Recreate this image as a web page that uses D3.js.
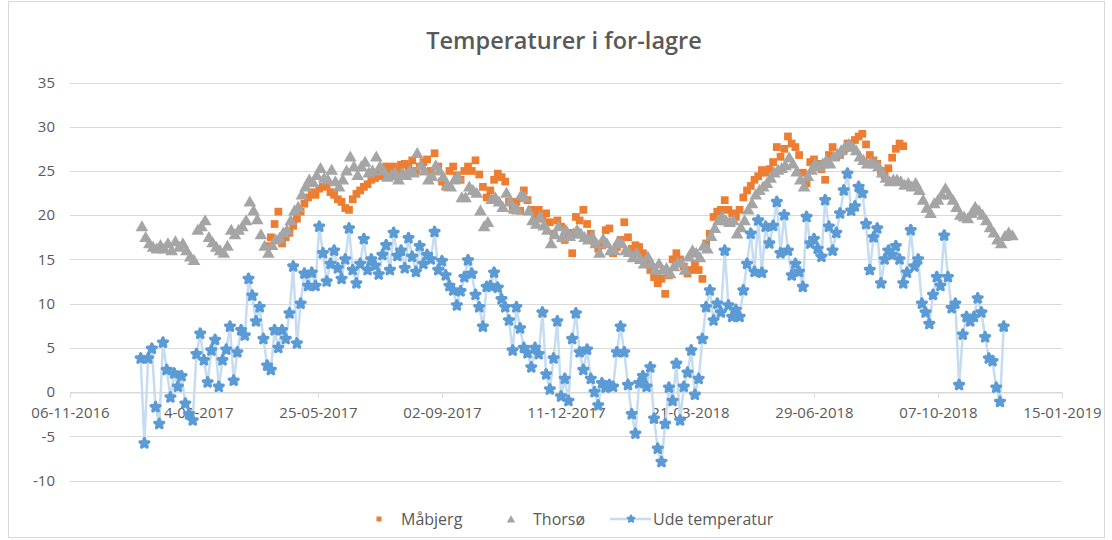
<!DOCTYPE html>
<html>
<head>
<meta charset="utf-8">
<script src="https://cdn.jsdelivr.net/npm/d3@7"></script>
<style>
  html, body { margin: 0; padding: 0; background: #fff; }
  svg { display: block; }
  text { font-family: "Open Sans", "Liberation Sans", sans-serif; fill: #595959; }
</style>
</head>
<body>
<svg id="chart" width="1112" height="540"></svg>
<script>
// ---------------- DATA ----------------
const chartTitle = "Temperaturer i for-lagre";
const seriesNames = ["Måbjerg", "Thorsø", "Ude temperatur"];
const xTickLabels = ["06-11-2016", "14-02-2017", "25-05-2017", "02-09-2017", "11-12-2017",
                     "21-03-2018", "29-06-2018", "07-10-2018", "15-01-2019"];
const yTickValues = [-10, -5, 0, 5, 10, 15, 20, 25, 30, 35];
const stepDays = 3; // readings sampled every 3 days

const maabjergStart = "14-04-2017";
const maabjergValues = [
  16.5, 17.5, 19.0, 20.4, 16.8, 17.5, 18.0, 18.8, 19.6, 20.4, 21.3, 22.0, 22.6, 22.3, 23.0, 23.2, 23.4,
  22.6, 22.3, 21.8, 21.5, 20.8, 20.6, 21.8, 22.4, 22.8, 23.2, 23.5, 24.0, 24.2, 24.6, 24.4, 25.5, 25.0,
  25.5, 25.0, 25.7, 25.8, 25.5, 26.2, 25.0, 25.5, 26.0, 26.3, 25.0, 27.0, 25.5, 23.8, 23.2, 25.0, 25.5,
  24.5, 24.0, 25.0, 25.5, 25.0, 26.2, 24.6, 23.2, 22.0, 22.8, 24.0, 24.7, 24.3, 23.8, 21.5, 20.6, 21.5, 20.5,
  22.8, 21.7, 20.6, 20.0, 20.6, 19.6, 20.2, 19.2, 17.9, 19.4, 18.7, 17.2, 18.0, 15.7, 19.8, 19.4, 20.6,
  19.0, 17.9, 16.8, 16.2, 16.6, 18.3, 18.5, 15.7, 16.4, 17.2, 19.2, 17.5, 16.2, 16.6, 16.4, 15.7, 14.9,
  13.8, 13.0, 12.3, 12.8, 11.1, 13.2, 15.0, 15.7, 15.0, 14.2, 13.4, 13.8, 14.5, 13.8, 12.8, 16.8, 17.9,
  19.8, 20.4, 20.6, 21.7, 20.6, 20.2, 19.8, 20.6, 22.0, 22.8, 23.3, 24.0, 24.4, 25.1, 24.8, 25.2, 26.0,
  27.7, 26.6, 27.5, 28.9, 28.1, 27.7, 26.8, 24.8, 23.6, 26.0, 26.3, 25.8, 25.2, 24.0, 26.8, 27.7, 26.6,
  26.8, 27.3, 28.1, 27.8, 28.5, 28.9, 29.2, 28.0, 26.8, 26.2, 25.8, 25.0, 24.5, 25.3, 26.5, 27.5, 28.1, 27.8
];

const thorsoStart = "03-01-2017";
const thorsoValues = [
  18.7, 17.5, 16.8, 16.4, 16.2, 16.6, 16.2, 16.8, 16.0, 17.0, 16.4, 16.8, 16.0, 15.3, 14.9, 18.3, 18.7,
  19.4, 17.5, 16.9, 16.4, 16.0, 15.7, 16.5, 18.3, 17.8, 18.3, 18.7, 19.4, 21.5, 20.5, 19.5, 17.8, 16.5,
  15.7, 16.6, 17.2, 17.4, 18.0, 18.3, 19.4, 20.5, 20.9, 22.3, 23.2, 24.0, 23.7, 24.5, 25.3, 24.2, 24.0,
  25.1, 23.8, 23.2, 24.0, 25.0, 26.6, 25.5, 24.5, 25.5, 26.0, 24.8, 25.0, 26.6, 25.5, 25.0, 24.3, 24.5,
  24.8, 24.0, 24.8, 24.5, 25.0, 24.8, 27.0, 25.6, 25.0, 24.0, 24.4, 25.6, 25.0, 24.3, 23.4, 23.2, 24.0,
  24.3, 22.0, 22.0, 23.2, 22.8, 22.5, 20.5, 18.7, 19.2, 21.8, 22.0, 21.5, 20.9, 22.5, 21.5, 20.8, 20.6,
  22.3, 22.0, 20.5, 19.4, 19.0, 19.8, 18.8, 18.3, 16.8, 17.8, 18.7, 17.5, 18.3, 17.6, 17.9, 18.3, 17.9,
  17.5, 17.2, 17.6, 16.8, 15.7, 17.3, 16.8, 16.0, 16.0, 17.0, 16.8, 16.0, 15.8, 15.2, 15.7, 15.0, 14.5,
  15.3, 14.5, 13.8, 14.5, 13.8, 14.0, 13.4, 14.2, 14.6, 14.6, 13.8, 15.3, 16.0, 15.7, 15.2, 16.5, 16.2,
  17.6, 18.5, 19.4, 19.8, 19.4, 19.2, 19.4, 17.9, 18.6, 19.4, 20.6, 21.3, 22.3, 22.8, 23.2, 23.6, 24.2,
  24.8, 25.1, 25.3, 25.6, 26.5, 25.8, 24.9, 24.0, 23.2, 24.4, 25.1, 25.8, 25.5, 25.8, 26.2, 25.8, 26.6,
  26.9, 27.3, 27.7, 28.0, 27.7, 27.3, 26.6, 26.2, 25.8, 26.0, 25.8, 25.5, 24.8, 24.2, 23.8, 24.0, 24.0,
  23.8, 23.4, 23.6, 23.2, 23.6, 22.8, 21.7, 20.8, 20.2, 21.3, 21.7, 22.3, 23.0, 22.3, 21.7, 20.9, 20.0,
  19.8, 19.6, 20.2, 20.9, 20.5, 20.0, 19.4, 18.6, 18.0, 17.2, 16.8, 17.6, 18.0, 17.7
];

const udeStart = "02-01-2017";
const udeValues = [
  3.8, -5.8, 3.8, 4.9, -1.7, -3.6, 5.6, 2.5, -0.6, 2.1, 0.6, 1.8, -1.3, -2.5, -3.2, 4.3, 6.6, 3.6, 1.1,
  4.7, 5.9, 0.6, 3.6, 4.8, 7.4, 1.3, 4.5, 7.0, 6.4, 12.8, 10.9, 8.0, 9.6, 6.0, 3.0, 2.5, 7.0, 5.0, 7.0,
  6.0, 8.9, 14.2, 5.5, 10.0, 13.4, 12.0, 13.5, 12.0, 18.7, 15.7, 12.5,
  14.5, 16.0, 14.0, 12.8, 15.0, 18.5, 13.8, 12.3, 14.5, 17.3, 13.8, 15.0, 14.3, 13.3, 15.5, 16.6, 13.8,
  18.0, 15.4, 16.0, 14.0, 17.4, 15.3, 13.6, 16.5, 14.5, 15.5, 15.0, 18.1, 13.8, 14.8, 13.2, 12.0, 11.5,
  9.8, 11.4, 13.0, 14.9, 13.4, 11.0, 9.6, 7.4, 11.9, 12.0, 13.5, 11.8, 10.5, 9.6, 8.1, 4.7, 9.6,
  7.2, 5.0, 4.4, 2.8, 5.0, 4.3, 9.0, 2.0, 0.3, 3.8, 8.0, -0.5, 1.5, -1.0, 6.0, 8.9, 4.5, 2.5, 4.8, 1.5,
  0.0, -1.5, 1.0, 0.5, 0.8, 0.6, 4.5, 7.4, 4.5, 0.8, -2.5, -4.7, 1.0, 1.8, 0.6, 2.8, -3.0, -6.4, -7.9,
  -3.6, 0.5, -1.0, 3.2, -3.2, 0.6, 2.2, 4.7, -0.3, 1.5, 6.0, 9.6,
  11.5, 8.1, 10.0, 9.0, 16.0, 9.8, 8.5, 9.3, 8.5, 11.5, 14.5, 17.9, 13.6, 19.4, 13.5, 18.7, 16.8, 18.8,
  21.5, 15.7, 20.0, 16.0, 13.2, 14.5, 13.6, 11.9, 19.8, 16.8, 17.3, 16.2, 15.3, 21.7, 18.7, 16.0, 18.0,
  20.2, 22.8, 24.7, 20.5, 21.0, 23.2, 22.5, 19.0, 13.8, 17.5, 18.5, 12.3, 15.0, 16.0, 15.5, 16.5,
  15.0, 12.3, 13.5, 18.3, 14.2, 15.0, 10.0, 9.0, 7.7, 11.0, 13.0, 12.0, 17.7, 13.0, 9.5, 10.0, 0.8, 6.5,
  8.5, 8.0, 8.5, 10.6, 9.0, 6.2, 3.8, 3.5, 0.5, -1.1, 7.4
];

// ---------------- DRAWING ----------------
const parseDate = d3.utcParse("%d-%m-%Y");
const toPoints = (start, values) => {
  const s = parseDate(start);
  return values.map((v, i) => ({ date: d3.utcDay.offset(s, i * stepDays), value: v }));
};
const maabjerg = toPoints(maabjergStart, maabjergValues);
const thorso = toPoints(thorsoStart, thorsoValues);
const ude = toPoints(udeStart, udeValues);
const xTicks = xTickLabels.map(parseDate);

const svg = d3.select("#chart");
const plot = { left: 70, right: 1062, top: 82.5, bottom: 480.5 };

// outer chart border
svg.append("rect").attr("x", 8.5).attr("y", 1.5).attr("width", 1096).attr("height", 536)
  .attr("fill", "#fff").attr("stroke", "#D9D9D9").attr("stroke-width", 1);

const x = d3.scaleUtc().domain([xTicks[0], xTicks[xTicks.length - 1]]).range([plot.left, plot.right]);
const y = d3.scaleLinear().domain([-10, 35]).range([plot.bottom, plot.top]);

// gridlines
svg.append("g").selectAll("line").data(yTickValues).join("line")
  .attr("x1", plot.left).attr("x2", plot.right)
  .attr("y1", d => Math.round(y(d)) + 0.5).attr("y2", d => Math.round(y(d)) + 0.5)
  .attr("stroke", "#D9D9D9").attr("stroke-width", 1);

// y axis labels (plain hyphen minus, as in the reference)
const yAxis = d3.axisLeft(y).tickValues(yTickValues).tickSize(0).tickPadding(0).tickFormat(d => String(d));
const gy = svg.append("g").attr("transform", `translate(${55},0)`).call(yAxis);
gy.select(".domain").remove();
gy.selectAll("text").attr("font-size", 15).attr("fill", "#595959")
  .style("font-family", '"Open Sans", sans-serif');

// x axis at y = 0
const fmt = d3.utcFormat("%d-%m-%Y");
const xAxis = d3.axisBottom(x).tickValues(xTicks).tickSize(5).tickPadding(10).tickFormat(fmt);
const gx = svg.append("g").attr("transform", `translate(0,${Math.round(y(0)) + 0.5})`).call(xAxis);
gx.select(".domain").attr("stroke", "#D9D9D9");
gx.selectAll(".tick line").attr("stroke", "#D9D9D9");
gx.selectAll("text").attr("font-size", 15).attr("fill", "#595959")
  .style("font-family", '"Open Sans", sans-serif');

// Måbjerg: orange squares
const sq = d3.symbol().type(d3.symbolSquare).size(60);
svg.append("g").selectAll("path").data(maabjerg).join("path")
  .attr("d", sq).attr("transform", d => `translate(${x(d.date)},${y(d.value)})`)
  .attr("fill", "#ED7D31");

// Thorsø: gray triangles
const tri = d3.symbol().type(d3.symbolTriangle).size(70);
svg.append("g").selectAll("path").data(thorso).join("path")
  .attr("d", tri).attr("transform", d => `translate(${x(d.date)},${y(d.value) + 1})`)
  .attr("fill", "#A5A5A5");

// Ude temperatur: light line + rounded blue star markers
const line = d3.line().x(d => x(d.date)).y(d => y(d.value));
svg.append("path").datum(ude).attr("d", line)
  .attr("fill", "none").attr("stroke", "#C6DCF1").attr("stroke-width", 2.5);
const star = d3.symbol().type(d3.symbolStar).size(24);
svg.append("g").selectAll("path").data(ude).join("path")
  .attr("d", star).attr("transform", d => `translate(${x(d.date)},${y(d.value)})`)
  .attr("fill", "#5B9BD5").attr("stroke", "#5B9BD5").attr("stroke-width", 3.4)
  .attr("stroke-linejoin", "round");

// title
svg.append("text").attr("x", 564).attr("y", 49).attr("text-anchor", "middle")
  .attr("font-size", 23.5).attr("font-weight", 600).attr("fill", "#595959").text(chartTitle);

// legend
const lg = svg.append("g");
const ly = 519;
const sqL = d3.symbol().type(d3.symbolSquare).size(25);
const triL = d3.symbol().type(d3.symbolTriangle).size(30);
const starL = d3.symbol().type(d3.symbolStar).size(12);
lg.append("path").attr("d", sqL).attr("transform", `translate(379,${ly})`).attr("fill", "#ED7D31");
lg.append("text").attr("x", 401).attr("y", ly + 6).attr("font-size", 16).text(seriesNames[0]);
lg.append("path").attr("d", triL).attr("transform", `translate(511,${ly + 1})`).attr("fill", "#A5A5A5");
lg.append("text").attr("x", 533).attr("y", ly + 6).attr("font-size", 16).text(seriesNames[1]);
lg.append("line").attr("x1", 610).attr("x2", 651).attr("y1", ly).attr("y2", ly)
  .attr("stroke", "#C6DCF1").attr("stroke-width", 2.5);
lg.append("path").attr("d", starL).attr("transform", `translate(631,${ly})`)
  .attr("fill", "#5B9BD5").attr("stroke", "#5B9BD5").attr("stroke-width", 2.4).attr("stroke-linejoin", "round");
lg.append("text").attr("x", 653).attr("y", ly + 6).attr("font-size", 16).text(seriesNames[2]);
</script>
</body>
</html>
